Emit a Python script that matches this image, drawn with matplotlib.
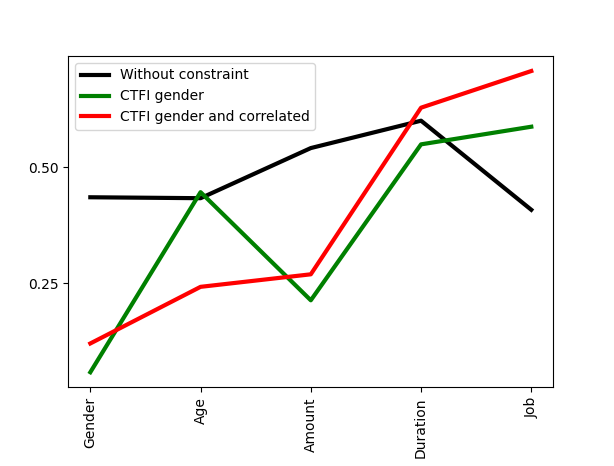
import matplotlib
matplotlib.use("Agg")
import matplotlib.pyplot as plt

features = ["Gender", "Age", "Amount", "Duration", "Job"]
without_constraint = [0.435, 0.433, 0.541, 0.600, 0.408]
ctfi_gender = [0.058, 0.446, 0.213, 0.549, 0.587]
ctfi_gender_corr = [0.120, 0.242, 0.269, 0.628, 0.707]
yticks = [0.25, 0.50]
ytick_labels = ["0.25", "0.50"]

fig = plt.figure(figsize=(6.14, 4.66), dpi=100)
ax = fig.add_axes([0.1112, 0.1689, 0.790, 0.711])
x = list(range(len(features)))
ax.plot(x, without_constraint, color="black", linewidth=3, label="Without constraint")
ax.plot(x, ctfi_gender, color="green", linewidth=3, label="CTFI gender")
ax.plot(x, ctfi_gender_corr, color="red", linewidth=3, label="CTFI gender and correlated")
ax.set_xticks(x)
ax.set_xticklabels(features, rotation=90)
ax.set_yticks(yticks)
ax.set_yticklabels(ytick_labels)
ax.legend(loc="upper left")
fig.savefig("out.png", dpi=100)
